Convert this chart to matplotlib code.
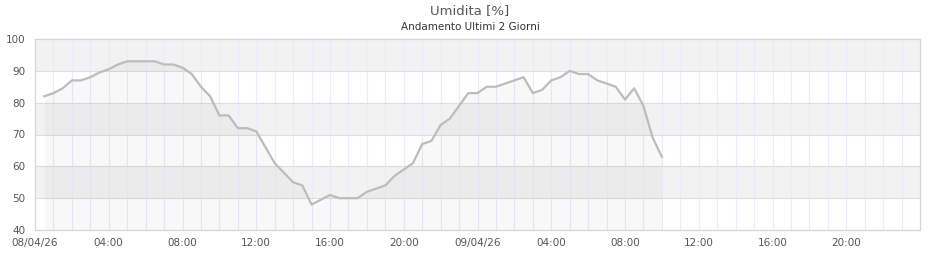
import matplotlib
matplotlib.use("Agg")
import matplotlib.pyplot as plt
import numpy as np

# hours since 08/04/26 00:00, sampled every 30 minutes
hours = [0.5, 1.0, 1.5, 2.0, 2.5, 3.0, 3.5, 4.0, 4.5, 5.0, 5.5, 6.0, 6.5, 7.0, 7.5, 8.0,
         8.5, 9.0, 9.5, 10.0, 10.5, 11.0, 11.5, 12.0, 12.5, 13.0, 13.5, 14.0, 14.5, 15.0,
         15.5, 16.0, 16.5, 17.0, 17.5, 18.0, 18.5, 19.0, 19.5, 20.0, 20.5, 21.0, 21.5,
         22.0, 22.5, 23.0, 23.5, 24.0, 24.5, 25.0, 25.5, 26.0, 26.5, 27.0, 27.5, 28.0,
         28.5, 29.0, 29.5, 30.0, 30.5, 31.0, 31.5, 32.0, 32.5, 33.0, 33.5, 34.0]
humidity = [82, 83, 84.5, 87, 87, 88, 89.5, 90.5, 92, 93, 93, 93, 93, 92, 92, 91,
            89, 85, 82, 76, 76, 72, 72, 71, 66, 61, 58, 55, 54, 48,
            49.5, 51, 50, 50, 50, 52, 53, 54, 57, 59, 61, 67, 68,
            73, 75, 79, 83, 83, 85, 85, 86, 87, 88, 83, 84, 87,
            88, 90, 89, 89, 87, 86, 85, 81, 84.5, 79, 69, 63]

xtick_pos = [0, 4, 8, 12, 16, 20, 24, 28, 32, 36, 40, 44]
xtick_labels = ["08/04/26", "04:00", "08:00", "12:00", "16:00", "20:00",
                "09/04/26", "04:00", "08:00", "12:00", "16:00", "20:00"]
yticks = [40, 50, 60, 70, 80, 90, 100]

title = "Umidita [%]"
subtitle = "Andamento Ultimi 2 Giorni"

fig = plt.figure(figsize=(9.4, 2.6), dpi=100)
ax = fig.add_axes([35/940, 30/260, 885/940, 191/260])
ax.set_xlim(0, 48)
ax.set_ylim(40, 100)

# alternating bands
for lo in (50, 70, 90):
    ax.axhspan(lo, lo + 10, color="#f2f2f2", lw=0, zorder=0)

# vertical hourly grid
for h in range(1, 48):
    ax.axvline(h, color="#ebebf9", lw=0.8, zorder=1)
# horizontal grid
for v in yticks[1:-1]:
    ax.axhline(v, color="#dedede", lw=0.8, zorder=1)

ax.fill_between(hours, humidity, 40, color="black", alpha=0.028, lw=0, zorder=2)
ax.plot(hours, humidity, color="#bcbcbc", lw=1.6, zorder=3, solid_joinstyle="round")

ax.set_xticks(xtick_pos)
ax.set_xticklabels(xtick_labels)
ax.set_yticks(yticks)
ax.tick_params(length=0, labelsize=7.5, labelcolor="#555555")
ax.tick_params(axis="x", pad=6)
ax.tick_params(axis="y", pad=7)
for s in ax.spines.values():
    s.set_color("#d6d6d6")
    s.set_linewidth(0.9)

fig.text(470/940, 1 - 11/260, title, ha="center", va="center", fontsize=9.5, color="#555555")
fig.text(470/940, 1 - 27/260, subtitle, ha="center", va="center", fontsize=7.5, color="#333333")

fig.savefig("out.png", dpi=100)
